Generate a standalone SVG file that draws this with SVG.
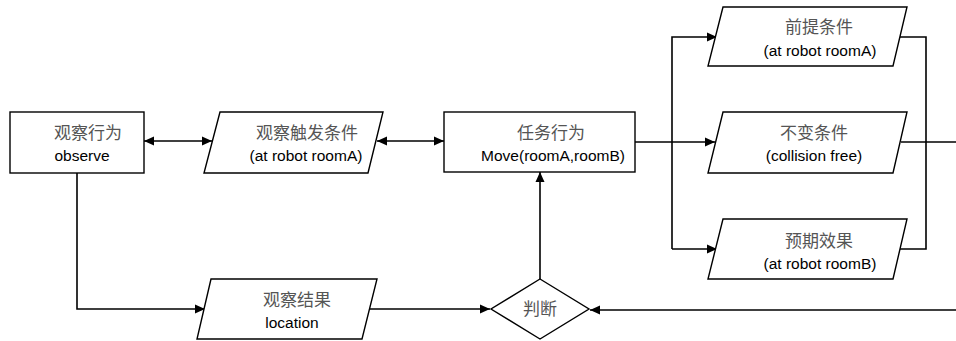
<svg xmlns="http://www.w3.org/2000/svg" width="956" height="341" viewBox="0 0 956 341">
<style>
.shape{fill:#fff;stroke:#000;stroke-width:1.4}
.cn{font-family:"Noto Sans CJK SC","Liberation Serif",serif;font-size:17px;fill:#555;text-anchor:middle}
.en{font-family:"Liberation Sans",Arial,sans-serif;font-size:15.5px;fill:#000;text-anchor:middle}
.ln{fill:none;stroke:#000;stroke-width:1.6}
</style>
<defs>
<marker id="ah" viewBox="0 0 10 10" refX="10" refY="5" markerWidth="10" markerHeight="10" markerUnits="userSpaceOnUse" orient="auto-start-reverse">
<path d="M0,0.5 L10,5 L0,9.5 Z" fill="#000"/>
</marker>
</defs>
<rect width="956" height="341" fill="#fff"/>
<g id="connectors">
<line class="ln" x1="144" y1="141" x2="212" y2="141" marker-start="url(#ah)" marker-end="url(#ah)"/>
<line class="ln" x1="377" y1="141" x2="444" y2="141" marker-start="url(#ah)" marker-end="url(#ah)"/>
<polyline class="ln" points="635,142 672,142"/>
<polyline class="ln" points="672,249 672,37 717,37" marker-end="url(#ah)"/>
<line class="ln" x1="672" y1="142" x2="715" y2="142" marker-end="url(#ah)"/>
<line class="ln" x1="672" y1="249" x2="717" y2="249" marker-end="url(#ah)"/>
<polyline class="ln" points="900,37 926,37 926,249 900,249"/>
<line class="ln" x1="901" y1="142" x2="956" y2="142"/>
<polyline class="ln" points="956,310 590,310" marker-end="url(#ah)"/>
<polyline class="ln" points="77,173 77,309 205,309" marker-end="url(#ah)"/>
<line class="ln" x1="369" y1="309" x2="490" y2="309" marker-end="url(#ah)"/>
<line class="ln" x1="540" y1="279" x2="540" y2="172" marker-end="url(#ah)"/>
</g>
<g id="observe">
<rect class="shape" x="10" y="112" width="134" height="61"/>
<text class="cn" x="88" y="139">观察行为</text>
<text class="en" x="82" y="161">observe</text>
</g>
<g id="trigger">
<polygon class="shape" points="220,112 383,112 368,173 204,173"/>
<text class="cn" x="307" y="139">观察触发条件</text>
<text class="en" x="306" y="161">(at robot roomA)</text>
</g>
<g id="task">
<rect class="shape" x="444" y="112" width="191" height="60"/>
<text class="cn" x="551" y="139">任务行为</text>
<text class="en" x="553" y="161">Move(roomA,roomB)</text>
</g>
<g id="precondition">
<polygon class="shape" points="723,7 907,7 893,66 708,66"/>
<text class="cn" x="819" y="33">前提条件</text>
<text class="en" x="820" y="56">(at robot roomA)</text>
</g>
<g id="invariant">
<polygon class="shape" points="723,112 907,112 893,173 708,173"/>
<text class="cn" x="814" y="139">不变条件</text>
<text class="en" x="814" y="161">(collision free)</text>
</g>
<g id="effect">
<polygon class="shape" points="723,219 907,219 893,279 708,279"/>
<text class="cn" x="819" y="247">预期效果</text>
<text class="en" x="820" y="269">(at robot roomB)</text>
</g>
<g id="result">
<polygon class="shape" points="211,279 377,279 362,339 197,339"/>
<text class="cn" x="297" y="306">观察结果</text>
<text class="en" x="292" y="328">location</text>
</g>
<g id="judge">
<polygon class="shape" points="540,279 589,309 540,339 491,309"/>
<text class="cn" x="540" y="315">判断</text>
</g>
</svg>
